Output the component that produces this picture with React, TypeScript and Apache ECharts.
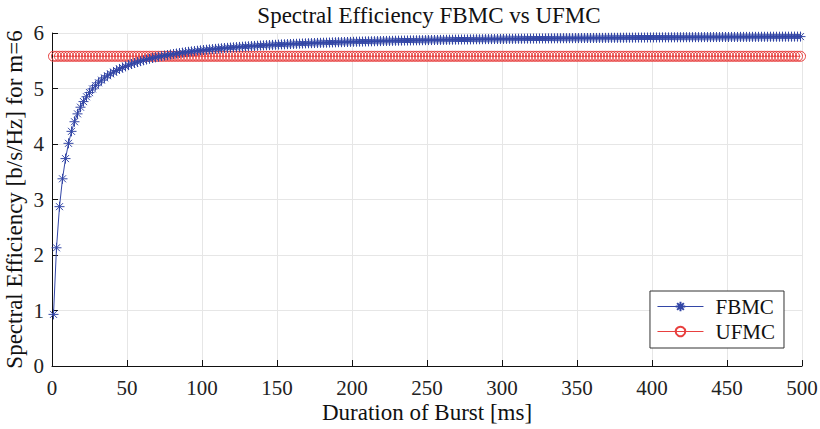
import React, { useEffect, useRef } from "react";
import * as echarts from "echarts";

const burstDurations: number[] = [
  1, 3, 5, 7, 9, 11, 13, 15, 17, 19, 21, 23, 25, 27, 29, 31, 33, 35, 37, 39,
  41, 43, 45, 47, 49, 51, 53, 55, 57, 59, 61, 63, 65, 67, 69, 71, 73, 75, 77, 79,
  81, 83, 85, 87, 89, 91, 93, 95, 97, 99, 101, 103, 105, 107, 109, 111, 113, 115, 117, 119,
  121, 123, 125, 127, 129, 131, 133, 135, 137, 139, 141, 143, 145, 147, 149, 151, 153, 155, 157, 159,
  161, 163, 165, 167, 169, 171, 173, 175, 177, 179, 181, 183, 185, 187, 189, 191, 193, 195, 197, 199,
  201, 203, 205, 207, 209, 211, 213, 215, 217, 219, 221, 223, 225, 227, 229, 231, 233, 235, 237, 239,
  241, 243, 245, 247, 249, 251, 253, 255, 257, 259, 261, 263, 265, 267, 269, 271, 273, 275, 277, 279,
  281, 283, 285, 287, 289, 291, 293, 295, 297, 299, 301, 303, 305, 307, 309, 311, 313, 315, 317, 319,
  321, 323, 325, 327, 329, 331, 333, 335, 337, 339, 341, 343, 345, 347, 349, 351, 353, 355, 357, 359,
  361, 363, 365, 367, 369, 371, 373, 375, 377, 379, 381, 383, 385, 387, 389, 391, 393, 395, 397, 399,
  401, 403, 405, 407, 409, 411, 413, 415, 417, 419, 421, 423, 425, 427, 429, 431, 433, 435, 437, 439,
  441, 443, 445, 447, 449, 451, 453, 455, 457, 459, 461, 463, 465, 467, 469, 471, 473, 475, 477, 479,
  481, 483, 485, 487, 489, 491, 493, 495, 497, 499,
];

const fbmcValues: number[] = [
  0.930, 2.130, 2.871, 3.373, 3.737, 4.012, 4.228, 4.401, 4.543, 4.663,
  4.764, 4.851, 4.926, 4.992, 5.051, 5.103, 5.150, 5.192, 5.230, 5.264,
  5.296, 5.325, 5.352, 5.377, 5.399, 5.421, 5.441, 5.459, 5.476, 5.493,
  5.508, 5.522, 5.536, 5.549, 5.561, 5.572, 5.583, 5.594, 5.603, 5.613,
  5.622, 5.630, 5.638, 5.646, 5.654, 5.661, 5.668, 5.674, 5.681, 5.687,
  5.693, 5.698, 5.704, 5.709, 5.714, 5.719, 5.724, 5.729, 5.733, 5.737,
  5.741, 5.745, 5.749, 5.753, 5.757, 5.760, 5.764, 5.767, 5.770, 5.774,
  5.777, 5.780, 5.783, 5.786, 5.788, 5.791, 5.794, 5.796, 5.799, 5.801,
  5.804, 5.806, 5.808, 5.810, 5.813, 5.815, 5.817, 5.819, 5.821, 5.823,
  5.825, 5.826, 5.828, 5.830, 5.832, 5.834, 5.835, 5.837, 5.838, 5.840,
  5.842, 5.843, 5.845, 5.846, 5.848, 5.849, 5.850, 5.852, 5.853, 5.854,
  5.856, 5.857, 5.858, 5.859, 5.861, 5.862, 5.863, 5.864, 5.865, 5.866,
  5.867, 5.868, 5.869, 5.870, 5.871, 5.872, 5.873, 5.874, 5.875, 5.876,
  5.877, 5.878, 5.879, 5.880, 5.881, 5.882, 5.883, 5.883, 5.884, 5.885,
  5.886, 5.887, 5.887, 5.888, 5.889, 5.890, 5.890, 5.891, 5.892, 5.893,
  5.893, 5.894, 5.895, 5.895, 5.896, 5.897, 5.897, 5.898, 5.899, 5.899,
  5.900, 5.900, 5.901, 5.902, 5.902, 5.903, 5.903, 5.904, 5.905, 5.905,
  5.906, 5.906, 5.907, 5.907, 5.908, 5.908, 5.909, 5.909, 5.910, 5.910,
  5.911, 5.911, 5.912, 5.912, 5.913, 5.913, 5.914, 5.914, 5.914, 5.915,
  5.915, 5.916, 5.916, 5.917, 5.917, 5.918, 5.918, 5.918, 5.919, 5.919,
  5.920, 5.920, 5.920, 5.921, 5.921, 5.921, 5.922, 5.922, 5.923, 5.923,
  5.923, 5.924, 5.924, 5.924, 5.925, 5.925, 5.925, 5.926, 5.926, 5.926,
  5.927, 5.927, 5.927, 5.928, 5.928, 5.928, 5.929, 5.929, 5.929, 5.930,
  5.930, 5.930, 5.930, 5.931, 5.931, 5.931, 5.932, 5.932, 5.932, 5.933,
  5.933, 5.933, 5.933, 5.934, 5.934, 5.934, 5.934, 5.935, 5.935, 5.935,
];

const ufmcValues: number[] = [
  5.58, 5.58, 5.58, 5.58, 5.58, 5.58, 5.58, 5.58, 5.58, 5.58,
  5.58, 5.58, 5.58, 5.58, 5.58, 5.58, 5.58, 5.58, 5.58, 5.58,
  5.58, 5.58, 5.58, 5.58, 5.58, 5.58, 5.58, 5.58, 5.58, 5.58,
  5.58, 5.58, 5.58, 5.58, 5.58, 5.58, 5.58, 5.58, 5.58, 5.58,
  5.58, 5.58, 5.58, 5.58, 5.58, 5.58, 5.58, 5.58, 5.58, 5.58,
  5.58, 5.58, 5.58, 5.58, 5.58, 5.58, 5.58, 5.58, 5.58, 5.58,
  5.58, 5.58, 5.58, 5.58, 5.58, 5.58, 5.58, 5.58, 5.58, 5.58,
  5.58, 5.58, 5.58, 5.58, 5.58, 5.58, 5.58, 5.58, 5.58, 5.58,
  5.58, 5.58, 5.58, 5.58, 5.58, 5.58, 5.58, 5.58, 5.58, 5.58,
  5.58, 5.58, 5.58, 5.58, 5.58, 5.58, 5.58, 5.58, 5.58, 5.58,
  5.58, 5.58, 5.58, 5.58, 5.58, 5.58, 5.58, 5.58, 5.58, 5.58,
  5.58, 5.58, 5.58, 5.58, 5.58, 5.58, 5.58, 5.58, 5.58, 5.58,
  5.58, 5.58, 5.58, 5.58, 5.58, 5.58, 5.58, 5.58, 5.58, 5.58,
  5.58, 5.58, 5.58, 5.58, 5.58, 5.58, 5.58, 5.58, 5.58, 5.58,
  5.58, 5.58, 5.58, 5.58, 5.58, 5.58, 5.58, 5.58, 5.58, 5.58,
  5.58, 5.58, 5.58, 5.58, 5.58, 5.58, 5.58, 5.58, 5.58, 5.58,
  5.58, 5.58, 5.58, 5.58, 5.58, 5.58, 5.58, 5.58, 5.58, 5.58,
  5.58, 5.58, 5.58, 5.58, 5.58, 5.58, 5.58, 5.58, 5.58, 5.58,
  5.58, 5.58, 5.58, 5.58, 5.58, 5.58, 5.58, 5.58, 5.58, 5.58,
  5.58, 5.58, 5.58, 5.58, 5.58, 5.58, 5.58, 5.58, 5.58, 5.58,
  5.58, 5.58, 5.58, 5.58, 5.58, 5.58, 5.58, 5.58, 5.58, 5.58,
  5.58, 5.58, 5.58, 5.58, 5.58, 5.58, 5.58, 5.58, 5.58, 5.58,
  5.58, 5.58, 5.58, 5.58, 5.58, 5.58, 5.58, 5.58, 5.58, 5.58,
  5.58, 5.58, 5.58, 5.58, 5.58, 5.58, 5.58, 5.58, 5.58, 5.58,
  5.58, 5.58, 5.58, 5.58, 5.58, 5.58, 5.58, 5.58, 5.58, 5.58,
];

const seriesNames: string[] = ["FBMC", "UFMC"];
const xTicks: number[] = [0, 50, 100, 150, 200, 250, 300, 350, 400, 450, 500];
const yTicks: number[] = [0, 1, 2, 3, 4, 5, 6];

const FONT = "'Liberation Serif', 'Times New Roman', Times, serif";
const BLUE = "#3346a6";
const RED = "#e8403f";
const ASTERISK =
  "path://M0,5L10,5M5,0L5,10M1.5,1.5L8.5,8.5M8.5,1.5L1.5,8.5";

export default function App() {
  const ref = useRef<HTMLDivElement>(null);

  useEffect(() => {
    document.body.style.margin = "0";
    if (!ref.current) return;
    const chart = echarts.init(ref.current, undefined, { renderer: "svg" });

    const fbmcData = burstDurations.map((x, i) => [x, fbmcValues[i]]);
    const ufmcData = burstDurations.map((x, i) => [x, ufmcValues[i]]);

    chart.setOption({
      animation: false,
      backgroundColor: "#ffffff",
      textStyle: { fontFamily: FONT },
      title: {
        text: "Spectral Efficiency FBMC vs UFMC",
        left: 424,
        textAlign: "center",
        top: -1,
        textStyle: {
          fontFamily: FONT,
          fontSize: 23,
          fontWeight: "normal",
          color: "#111",
        },
      },
      grid: {
        left: 52,
        right: 18,
        top: 33,
        bottom: 63,
        containLabel: false,
        outerBoundsMode: "none",
      },
      legend: {
        data: seriesNames,
        orient: "vertical",
        right: 36,
        top: 291,
        padding: [5, 9, 6, 7],
        itemGap: 4,
        itemWidth: 46,
        itemHeight: 12,
        borderColor: "#333",
        borderWidth: 1,
        backgroundColor: "#ffffff",
        lineStyle: { width: 1 },
        textStyle: {
          fontFamily: FONT,
          fontSize: 21,
          color: "#111",
          padding: [0, 0, 0, 7],
        },
      },
      xAxis: {
        type: "value",
        min: xTicks[0],
        max: xTicks[xTicks.length - 1],
        interval: 50,
        name: "Duration of Burst [ms]",
        nameLocation: "middle",
        nameGap: 35,
        nameMoveOverlap: false,
        nameTextStyle: { fontFamily: FONT, fontSize: 23, color: "#111" },
        axisLine: { show: true, lineStyle: { color: "#111", width: 1 } },
        axisTick: { show: true, inside: true, length: 6, lineStyle: { color: "#111" } },
        axisLabel: { fontFamily: FONT, fontSize: 21, color: "#222", margin: 11 },
        splitLine: { show: true, lineStyle: { color: "#e6e6e6", width: 1 } },
      },
      yAxis: {
        type: "value",
        min: yTicks[0],
        max: yTicks[yTicks.length - 1],
        interval: 1,
        name: "Spectral Efficiency [b/s/Hz] for m=6",
        nameLocation: "middle",
        nameGap: 26,
        nameMoveOverlap: false,
        nameTextStyle: { fontFamily: FONT, fontSize: 23, color: "#111" },
        axisLine: { show: true, lineStyle: { color: "#111", width: 1 } },
        axisTick: { show: true, inside: true, length: 6, lineStyle: { color: "#111" } },
        axisLabel: { fontFamily: FONT, fontSize: 21, color: "#222", margin: 8 },
        splitLine: { show: true, lineStyle: { color: "#e6e6e6", width: 1 } },
      },
      series: [
        {
          name: seriesNames[0],
          type: "line",
          data: fbmcData,
          symbol: ASTERISK,
          symbolSize: 10,
          showAllSymbol: true,
          lineStyle: { color: BLUE, width: 1 },
          itemStyle: { color: BLUE, borderColor: BLUE, borderWidth: 1 },
          z: 3,
        },
        {
          name: seriesNames[1],
          type: "line",
          data: ufmcData,
          symbol: "circle",
          symbolSize: 10,
          showAllSymbol: true,
          lineStyle: { color: RED, width: 1 },
          itemStyle: { color: "rgba(255,255,255,0)", borderColor: RED, borderWidth: 1 },
          z: 2,
        },
      ],
    });

    return () => {
      chart.dispose();
    };
  }, []);

  return <div ref={ref} style={{ width: 820, height: 429 }} />;
}
